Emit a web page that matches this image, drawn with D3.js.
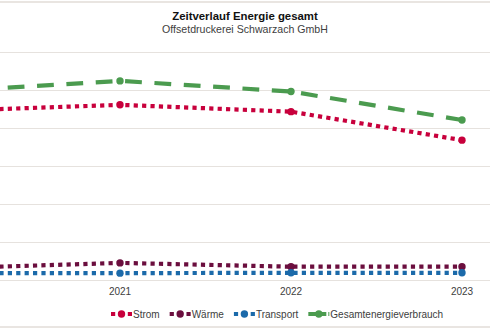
<!DOCTYPE html>
<html>
<head>
<meta charset="utf-8">
<script src="https://cdn.jsdelivr.net/npm/d3@7"></script>
<style>
  html, body { margin: 0; padding: 0; background: #fff; }
  svg { display: block; }
</style>
</head>
<body>
<svg id="chart" width="490" height="330"></svg>
<script>
// chart data (2020 sits left of the visible crop)
const years     = ['2020', '2021', '2022', '2023'];
const strom     = [445, 461, 443, 368];
const waerme    = [31, 45, 35, 35];
const transport = [18, 18, 19, 19];
const gesamt    = [497, 524, 496, 421];
const yTicks    = [0, 100, 200, 300, 400, 500, 600];

const seriesNames = ['Strom', 'Wärme', 'Transport', 'Gesamtenergieverbrauch'];
const seriesData  = [strom, waerme, transport, gesamt];

//#region look
const colors  = ['#c8003c', '#6b0e3e', '#1b6aaa', '#4b9b4f'];
const dashes  = ['4.2 4.2', '4.2 4.2', '4.2 4.2', '16.8 12.6'];
const lineW   = 4.2;
const dotR    = 3.7;
const font    = '"Liberation Sans", Arial, sans-serif';
const W = 490;
//#endregion

const svg = d3.select('#chart');

// the plot is wider than the crop, the band centers land on 120 / 291 / 462
const x = d3.scaleBand().domain(years).range([-136.5, 547.5]);
const y = d3.scaleLinear().domain([0, 600]).range([280, 52]);
const cx = d => x(d) + x.bandwidth() / 2;

// chart frame
svg.append('rect')
    .attr('x', -10).attr('y', 2)
    .attr('width', 510).attr('height', 325)
    .attr('fill', 'none')
    .attr('stroke', '#e2ddd8')
    .attr('stroke-width', 1.5);

// gridlines
const yAxis = d3.axisLeft(y).tickValues(yTicks).tickSize(-700).tickFormat('');
svg.append('g')
    .attr('transform', 'translate(-136.5,0)')
    .call(yAxis)
    .call(g => g.select('.domain').remove())
    .call(g => g.selectAll('.tick line').attr('stroke', '#e6e2de').attr('stroke-width', 1));

// category labels, only the ones inside the visible crop
const xAxis = d3.axisBottom(x).tickSize(0).tickPadding(0);
svg.append('g')
    .attr('transform', 'translate(0,288)')
    .call(xAxis)
    .call(g => g.select('.domain').remove())
    .call(g => g.selectAll('.tick').filter(d => cx(d) < 0 || cx(d) > W).remove())
    .call(g => g.selectAll('text')
        .attr('dy', '0.71em')
        .attr('fill', '#404040')
        .style('font', '10px ' + font));

// series lines + markers
const line = d3.line().x((d, i) => cx(years[i])).y(d => y(d));

seriesData.forEach((vals, s) => {
    svg.append('path')
        .datum(vals)
        .attr('d', line)
        .attr('fill', 'none')
        .attr('stroke', colors[s])
        .attr('stroke-width', lineW)
        .attr('stroke-dasharray', dashes[s]);

    svg.append('g').selectAll('circle')
        .data(vals)
        .join('circle')
        .attr('cx', (d, i) => cx(years[i]))
        .attr('cy', d => y(d))
        .attr('r', dotR)
        .attr('fill', colors[s]);
});

// titles
svg.append('text')
    .attr('x', 245).attr('y', 20)
    .attr('text-anchor', 'middle')
    .attr('fill', '#111')
    .style('font', 'bold 11.4px ' + font)
    .text('Zeitverlauf Energie gesamt');

svg.append('text')
    .attr('x', 245).attr('y', 33)
    .attr('text-anchor', 'middle')
    .attr('fill', '#404040')
    .style('font', '10.6px ' + font)
    .text('Offsetdruckerei Schwarzach GmbH');

// legend
let lx = 111;
const ly = 314;
seriesNames.forEach((name, s) => {
    const g = svg.append('g');
    g.append('line')
        .attr('x1', lx).attr('x2', lx + 21)
        .attr('y1', ly).attr('y2', ly)
        .attr('stroke', colors[s])
        .attr('stroke-width', lineW)
        .attr('stroke-dasharray', s === 3 ? '8 2' : dashes[s]);
    g.append('circle')
        .attr('cx', lx + 10.5).attr('cy', ly)
        .attr('r', dotR)
        .attr('fill', colors[s]);
    const t = g.append('text')
        .attr('x', lx + 22).attr('y', ly + 4)
        .attr('fill', '#404040')
        .style('font', '10px ' + font)
        .text(name);
    lx += 22 + t.node().getComputedTextLength() + 10;
});
</script>
</body>
</html>
